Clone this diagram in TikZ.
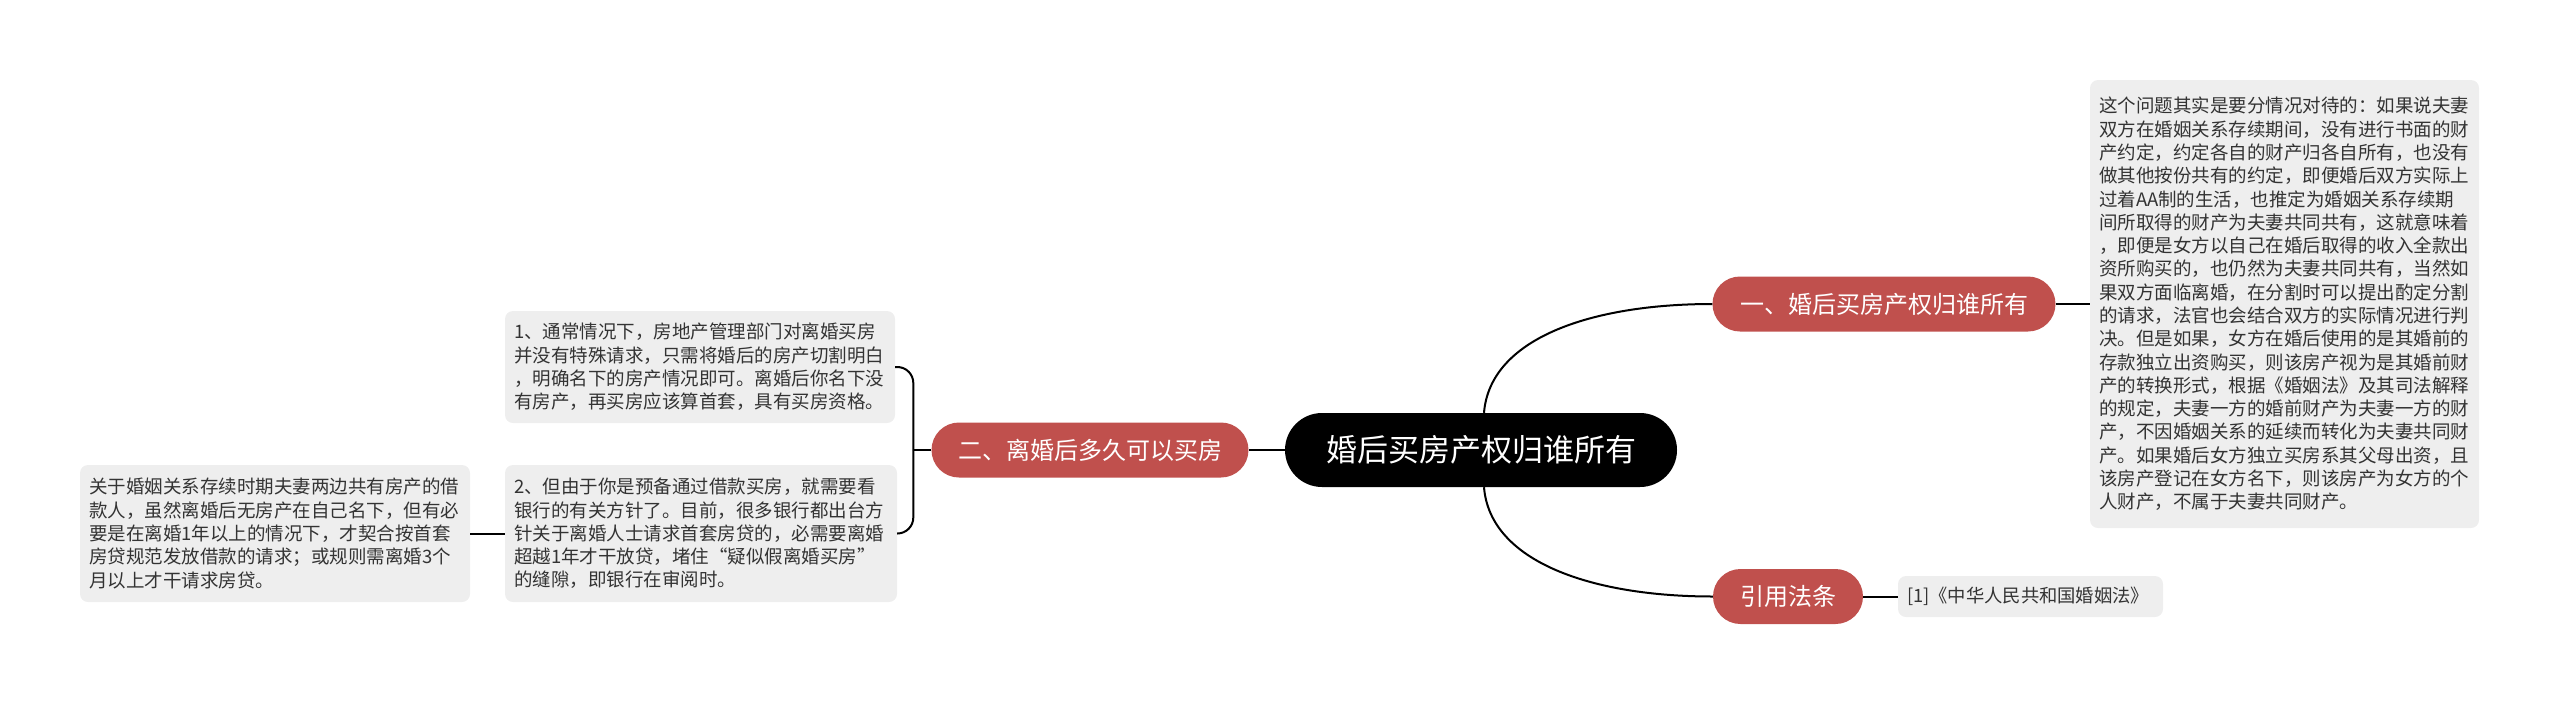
\documentclass[tikz,border=0pt]{standalone}
\usepackage{fontspec}
\setmainfont{Noto Sans CJK SC}
\definecolor{pillred}{HTML}{C0504D}
\definecolor{boxgray}{HTML}{EEEEEE}
\definecolor{txtgray}{HTML}{333333}
\tikzset{
  conn/.style={draw=black, line width=2pt},
  pill/.style={fill=pillred, text=white, rounded corners=27.5pt, minimum height=55pt, inner sep=0pt,
    font=\fontsize{24}{28}\selectfont},
  rootnode/.style={fill=black, text=white, rounded corners=37pt, minimum height=74pt, minimum width=392pt, inner sep=0pt,
    font=\fontsize{31}{36}\selectfont},
  textbox/.style={fill=boxgray, text=txtgray, rounded corners=8pt, inner xsep=9pt, inner ysep=0pt, align=left,
    font=\fontsize{18.5}{23.3}\selectfont},
}
\begin{document}
\begin{tikzpicture}[x=1pt, y=-1pt]
\useasboundingbox (0,0) rectangle (2560,705);

% nodes
\node[rootnode] (c) at (1481,450) {婚后买房产权归谁所有};
\node[pill, minimum width=343pt] (n1) at (1884,304) {一、婚后买房产权归谁所有};
\node[pill, minimum width=317pt] (n2) at (1090,450) {二、离婚后多久可以买房};
\node[pill, minimum width=150pt] (n3) at (1788,596.5) {引用法条};

\node[textbox, text width=371pt, minimum height=448pt] (bR) at (2284.5,304) {这个问题其实是要分情况对待的：如果说夫妻\\
双方在婚姻关系存续期间，没有进行书面的财\\
产约定，约定各自的财产归各自所有，也没有\\
做其他按份共有的约定，即便婚后双方实际上\\
过着AA制的生活，也推定为婚姻关系存续期\\
间所取得的财产为夫妻共同共有，这就意味着\\
，即便是女方以自己在婚后取得的收入全款出\\
资所购买的，也仍然为夫妻共同共有，当然如\\
果双方面临离婚，在分割时可以提出酌定分割\\
的请求，法官也会结合双方的实际情况进行判\\
决。但是如果，女方在婚后使用的是其婚前的\\
存款独立出资购买，则该房产视为是其婚前财\\
产的转换形式，根据《婚姻法》及其司法解释\\
的规定，夫妻一方的婚前财产为夫妻一方的财\\
产，不因婚姻关系的延续而转化为夫妻共同财\\
产。如果婚后女方独立买房系其父母出资，且\\
该房产登记在女方名下，则该房产为女方的个\\
人财产，不属于夫妻共同财产。};

\node[textbox, text width=372pt, minimum height=112pt] (b1) at (700,367) {1、通常情况下，房地产管理部门对离婚买房\\
并没有特殊请求，只需将婚后的房产切割明白\\
，明确名下的房产情况即可。离婚后你名下没\\
有房产，再买房应该算首套，具有买房资格。};

\node[textbox, text width=374pt, minimum height=137pt] (b2) at (701,533.5) {2、但由于你是预备通过借款买房，就需要看\\
银行的有关方针了。目前，很多银行都出台方\\
针关于离婚人士请求首套房贷的，必需要离婚\\
超越1年才干放贷，堵住“疑似假离婚买房”\\
的缝隙，即银行在审阅时。};

\node[textbox, text width=372pt, minimum height=137pt] (b3) at (275,533.5) {关于婚姻关系存续时期夫妻两边共有房产的借\\
款人，虽然离婚后无房产在自己名下，但有必\\
要是在离婚1年以上的情况下，才契合按首套\\
房贷规范发放借款的请求；或规则需离婚3个\\
月以上才干请求房贷。};

\node[textbox, text width=247pt, minimum height=41pt, font=\fontsize{18.3}{22}\selectfont] (ref) at (2030.5,596.5) {[1]《中华人民共和国婚姻法》};

% connectors
\draw[conn] (c.west) -- (n2.east);
\draw[conn] (n2.west) -- ++(-18,0) coordinate (j);
\draw[conn, rounded corners=16pt] (j) |- (b1.east);
\draw[conn, rounded corners=16pt] (j) |- (b2.east);
\draw[conn] (b2.west) -- (b3.east);
\draw[conn] (n1.east) -- (bR.west);
\draw[conn] (n3.east) -- (ref.west);
\draw[conn] ([xshift=3pt]c.north) .. controls +(6,-75) and +(-120,0) .. (n1.west);
\draw[conn] ([xshift=3pt]c.south) .. controls +(6,75) and +(-120,0) .. (n3.west);
\end{tikzpicture}
\end{document}
